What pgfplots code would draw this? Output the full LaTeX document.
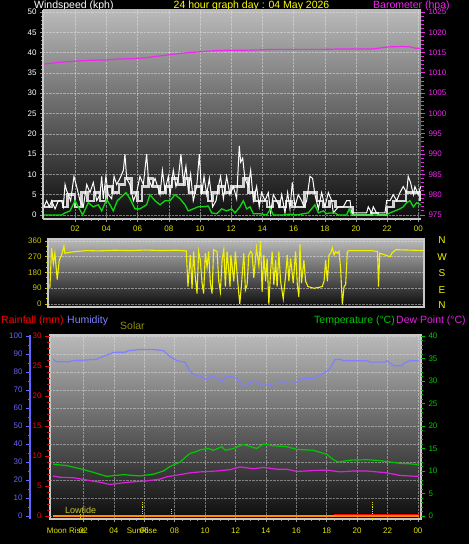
\documentclass[border=0pt]{standalone}
\usepackage{pgfplots}
\usepackage{pgfplotstable}
\pgfplotsset{compat=1.18}
\usepackage{fontspec}
\setmainfont{Liberation Sans}
\definecolor{bgtop}{HTML}{BABABA}
\definecolor{bgbot}{HTML}{0C0C0C}
\definecolor{bord}{HTML}{C8C8C8}
\definecolor{tyel}{HTML}{E2E200}
\definecolor{ttl}{HTML}{FFFF00}
\definecolor{bmag}{HTML}{F028F0}
\definecolor{avgg}{HTML}{10D810}
\definecolor{diry}{HTML}{F2F200}
\definecolor{dirlab}{HTML}{C8C800}
\definecolor{hum}{HTML}{8080FF}
\definecolor{humax}{HTML}{6464FF}
\definecolor{tgreen}{HTML}{00C800}
\definecolor{dewm}{HTML}{E020E0}
\definecolor{rainr}{HTML}{FF0000}
\definecolor{rorange}{HTML}{FF8C00}
\definecolor{solar}{HTML}{8C8C10}
\definecolor{tide}{HTML}{C8C830}
\definecolor{spd}{HTML}{D4D4D4}
\newcommand{\tf}{\fontsize{8}{9}\selectfont}
\newcommand{\hf}{\fontsize{10.5}{12}\selectfont}
\pgfplotsset{
  panel/.style={anchor=south west, scale only axis,
    /pgf/number format/assume math mode=true,
    /pgf/number format/1000 sep={},
    tick align=outside, major tick length=3pt, minor tick length=2pt},
}
\pgfplotstableread{
h v
0.00 2
0.17 3.5
0.34 2
0.49 3.5
0.71 1.5
0.92 3.5
1.13 3.5
1.24 2
1.35 7.5
1.45 6
1.56 5
1.71 3.5
1.92 9.5
2.09 7
2.31 3.5
2.52 2
2.74 7.5
2.95 5.5
3.16 8
3.38 3.5
3.59 5
3.70 9.5
3.80 4
3.97 9.5
4.12 5
4.34 4
4.49 9.5
4.66 7.5
4.87 9
5.09 11
5.19 15
5.30 9
5.51 7.5
5.73 3.5
5.94 5.5
6.15 9.5
6.37 7.5
6.58 15
6.69 9
6.90 7
7.12 9
7.44 5
7.59 11
7.76 6
7.97 9.5
8.08 5
8.29 11
8.46 7
8.61 9
8.78 15
8.93 8
9.10 12
9.25 6
9.40 10
9.57 3.5
9.79 7
9.96 15
10.11 5
10.26 9.5
10.43 5
10.60 9
10.81 2
11.03 3.5
11.18 7
11.32 9.5
11.50 4
11.71 9.5
11.92 5
12.14 7
12.35 4
12.52 17
12.61 13
12.74 14
12.88 9
13.10 7
13.25 11
13.42 3.5
13.63 7
13.80 2
13.95 5.5
14.17 3.5
14.38 5.5
14.53 0.5
14.70 5
14.91 3.5
15.09 2
15.24 5
15.45 0.5
15.62 5.5
15.77 1.5
15.92 8
16.09 2
16.30 5
16.52 3.5
16.67 2
16.84 3.5
17.05 9.5
17.22 9
17.37 5
17.59 1.5
17.80 5.5
18.01 2
18.23 5.5
18.44 3.5
18.55 0.5
18.87 2
19.19 2
19.40 3.5
19.62 3.5
19.72 0.5
20.68 0.5
20.79 2
21.00 0.5
21.11 2
21.32 0.5
21.86 0.5
21.97 3.5
22.18 3.5
22.39 5
22.61 3.5
22.82 5.5
23.03 7
23.25 5.5
23.35 9.5
23.50 8
23.68 5
23.78 7
23.99 5
24.15 7
}\gust
\pgfplotstableread{
h v
0.0 2
0.5 3.5
1.2 2
1.5 5
2.0 2
2.4 5.5
2.8 3.5
3.2 5.5
3.6 3.5
4.0 7
4.4 5.5
4.8 7.5
5.2 9
5.6 5.5
6.0 3.5
6.3 7
6.7 9
7.0 7
7.4 5.5
7.8 7
8.2 9
8.6 7.5
9.0 9
9.3 5.5
9.7 7
10.1 5.5
10.5 3.5
10.8 5.5
11.2 7
11.6 5.5
12.0 7
12.4 7
12.8 9
13.1 5.5
13.5 3.5
13.9 3.5
14.3 2
14.7 3.5
15.1 2
15.5 3.5
15.9 2
16.3 2
16.7 5.5
17.1 5.5
17.5 3.5
17.9 2
18.3 3.5
18.7 2
19.1 2
19.5 2
19.8 0
20.8 0
21.0 0.5
21.4 0
22.0 2
22.4 3.5
22.8 3.5
23.2 5.5
23.6 5.5
24.1 3.5
}\speed
\pgfplotstableread{
h v
0.00 0
1.13 0
1.35 0.5
1.67 1
1.99 3.5
2.20 2
2.48 0
2.84 3
3.16 2
3.48 2.5
3.70 1
4.02 3.8
4.23 2.5
4.44 1
4.70 3.5
4.98 4.5
5.26 5.5
5.51 4
5.83 1.5
6.15 1.5
6.58 2.5
6.79 5
7.12 3.5
7.44 2.5
7.76 3.5
8.08 3.5
8.40 5
8.72 4
9.04 2.5
9.25 1
9.57 1.5
9.89 2
10.21 2
10.53 2.2
10.75 0.5
11.07 0.3
11.39 1.5
11.71 1
12.03 1.5
12.24 0.5
12.56 2
12.78 3.5
12.99 1.5
13.21 2
13.42 0.3
13.85 0.3
14.27 0
14.53 1.5
14.70 0
15.34 0
15.77 0.2
16.20 0
16.94 0.5
17.37 2.5
17.59 0.5
17.91 1
18.12 0.3
18.33 0.5
18.65 0.5
18.87 0
19.40 0
19.57 1.5
19.72 0
21.97 0
22.18 0.5
22.50 1
22.82 1.5
23.03 2
23.25 3
23.46 3.5
23.68 2
23.89 3
24.15 2.5
}\avg
\pgfplotstableread{
h v
0 1012.2
1 1012.6
2 1012.9
3 1013.1
4 1013.2
4.7 1013.4
5.5 1013.5
6.5 1013.7
7 1014.0
7.7 1014.3
8.5 1014.7
9.3 1015.0
10 1015.2
11 1015.5
12 1015.6
13 1015.6
14 1015.7
15 1015.8
16 1015.8
17 1015.8
18 1015.8
19 1015.9
20 1015.9
21 1015.9
21.5 1016.1
22 1016.4
23 1016.5
23.5 1016.4
23.8 1016.1
24.15 1016.0
}\baro
\pgfplotstableread{
h v
0.38 90
0.49 320
0.60 230
0.70 290
0.85 140
0.98 250
1.13 280
1.28 330
1.34 290
1.66 295
2.09 300
2.73 305
3.50 303
4.50 307
5.50 305
6.50 308
7.50 305
8.50 307
9.10 303
9.21 100
9.36 280
9.47 90
9.57 300
9.68 150
9.79 60
9.89 300
10.00 250
10.11 120
10.21 60
10.32 290
10.43 210
10.53 300
10.64 120
10.75 60
10.85 310
11.07 300
11.18 130
11.28 70
11.39 250
11.50 310
11.60 100
11.71 300
11.90 100
11.95 280
12.14 130
12.24 300
12.35 170
12.52 0
12.63 110
12.78 290
12.88 80
12.99 110
13.10 280
13.21 300
13.31 290
13.42 150
13.59 320
13.74 220
13.85 360
13.95 70
14.06 280
14.17 130
14.27 260
14.38 0
14.49 180
14.59 300
14.70 110
14.81 250
14.91 100
15.02 300
15.13 130
15.30 30
15.45 160
15.56 280
15.66 130
15.77 260
15.94 120
16.09 300
16.20 110
16.30 40
16.37 340
16.47 120
16.62 250
16.73 130
16.88 100
17.05 95
17.26 90
17.59 95
17.80 100
17.91 130
18.01 250
18.12 130
18.23 280
18.33 290
18.44 320
18.55 280
18.65 300
18.76 290
18.87 300
18.97 200
19.08 0
19.19 100
19.29 110
19.40 300
19.51 305
20.90 305
21.33 300
21.39 100
21.47 290
21.97 275
22.14 270
22.24 290
22.50 310
24.30 305
}\dir
\pgfplotstableread{
h v
0.00 87
0.24 85.7
1.12 85.7
1.23 86.3
1.78 86.5
2.87 87
3.09 88
3.53 89.4
3.97 90.9
4.74 91
4.96 91.9
5.72 92.5
6.60 92.5
7.26 91.9
7.70 88.5
8.14 86.3
8.68 85.5
8.90 82
9.12 79.3
9.45 78
9.78 77.4
10.11 75.6
10.44 78
10.77 76.5
11.10 75
11.43 77.4
11.75 77.4
12.08 76.5
12.30 74
12.63 72.2
12.96 74
13.29 75
13.62 73
13.84 72.5
14.50 73.5
15.15 74
15.81 73.5
16.14 75
16.47 76.5
17.13 76.5
17.57 78.5
17.89 79.6
18.22 82
18.55 87
18.88 87
19.10 86.3
20.64 86.3
20.86 85.5
21.84 85.5
21.95 86.3
22.39 83.5
22.94 83.5
23.05 84.8
23.49 86.3
24.05 86.3
}\hum
\pgfplotstableread{
h v
0.00 11.5
0.90 11.2
1.78 10.5
2.65 9.7
3.53 8.8
4.08 9.0
4.63 9.2
5.29 9.0
5.72 8.9
6.60 9.3
7.26 10.0
7.70 11.0
8.36 12.0
8.68 13.0
9.01 13.9
9.34 14.2
9.67 14.7
10.22 15.0
10.55 14.6
11.10 15.4
11.32 14.6
11.86 15.0
12.52 15.9
13.40 15.0
13.84 16.0
14.50 15.6
15.37 15.4
16.03 14.8
17.13 14.6
18.00 13.7
18.44 12.5
18.77 12.0
19.54 12.4
20.64 12.5
21.51 12.3
22.17 12.0
22.83 11.7
23.49 11.6
24.05 11.4
}\temp
\pgfplotstableread{
h v
0.00 8.9
0.46 8.6
1.34 8.5
2.21 8.0
3.09 7.5
3.75 7.0
4.41 7.3
5.29 7.6
6.16 7.8
7.04 8.2
7.48 8.7
8.36 9.2
9.01 9.6
9.67 9.8
10.77 10.0
11.64 10.3
12.30 10.9
13.18 10.5
13.84 10.8
14.72 10.4
15.37 10.4
16.03 9.9
17.13 10.1
18.00 10.2
18.88 9.8
19.75 10.0
20.64 10.0
21.95 9.6
22.83 9.0
24.05 8.8
}\dew
\begin{document}
\begin{tikzpicture}[x=1pt,y=1pt]
\fill[black] (0pt,0pt) rectangle (469pt,544pt);
\useasboundingbox (0pt,0pt) rectangle (469pt,544pt);
% titles
\node[anchor=west, white, font=\hf, inner sep=0] at (34pt,538pt) {Windspeed (kph)};
\node[ttl, font=\hf, inner sep=0] at (251.5pt,538pt) {24 hour graph day : 04 May 2026};
% ---------- top panel ----------
\begin{axis}[panel, at={(43pt,325pt)}, width=378pt, height=209pt,
  xmin=-0.064, xmax=24.17, ymin=-1, ymax=50.5,
  axis background/.style={shade, top color=bgtop, bottom color=bgbot},
  axis x line*=bottom, axis y line*=left,
  axis line style={-, bord, line width=1.5pt},
  ytick={0,5,...,50}, minor y tick num=4,
  xtick={2,4,...,24}, xticklabels={02,04,06,08,10,12,14,16,18,20,22,00},
  minor x tick num=3,
  tick style={gray!80, line width=0.5pt},
  yticklabel style={white, font=\tf},
  xticklabel style={tyel, font=\tf},
  grid=major, major grid style={densely dotted, white!80!gray, opacity=0.5, line width=0.5pt},
]
\addplot[spd, line width=2.4pt, const plot] table {\speed};
\addplot[white, line width=1pt] table {\gust};
\addplot[avgg, line width=1.3pt] table {\avg};
\end{axis}
\begin{axis}[panel, at={(43pt,325pt)}, width=378pt, height=209pt,
  xmin=-0.064, xmax=24.17, ymin=974, ymax=1025.5,
  axis y line*=right, hide x axis,
  y axis line style={draw=none},
  ytick={975,980,...,1025}, minor y tick num=4,
  major tick length=4pt, minor tick length=3pt,
  tick style={bmag, line width=0.8pt},
  yticklabel style={bmag, font=\tf},
]
\addplot[bmag, line width=1.2pt] table {\baro};
\end{axis}
\node[anchor=west, bmag, font=\hf, inner sep=0] at (373pt,538.5pt) {Barometer (hpa)};
% ---------- wind direction ----------
\begin{axis}[panel, at={(48pt,237pt)}, width=376pt, height=68pt,
  xmin=0.26, xmax=24.3, ymin=-17, ymax=371,
  axis background/.style={shade, top color=bgtop, bottom color=bgbot},
  axis line style={bord, line width=1.5pt},
  xtick=\empty, ytick={0,90,180,270,360}, minor y tick num=2, ytick pos=left,
  tick style={dirlab, line width=0.6pt},
  yticklabel style={dirlab, font=\tf},
  ymajorgrids, major grid style={densely dotted, white!80!gray, opacity=0.5},
]
\addplot[diry, line width=1.1pt] table {\dir};
\end{axis}
\foreach \l/\yy in {N/304, W/287, S/271, E/254, N/239}
  \node[diry, font=\fontsize{10}{12}\selectfont, inner sep=0] at (442pt,\yy pt) {\l};
% ---------- bottom headers ----------
\node[anchor=west, rainr, font=\hf, inner sep=0] at (1pt,223pt) {Rainfall (mm)};
\node[anchor=west, hum, font=\hf, inner sep=0] at (67pt,223pt) {Humidity};
\node[anchor=west, solar, font=\hf, inner sep=0] at (120pt,218pt) {Solar};
\node[anchor=east, tgreen, font=\hf, inner sep=0] at (395pt,223pt) {Temperature (°C)};
\node[anchor=west, dewm, font=\hf, inner sep=0] at (396pt,223pt) {Dew Point (°C)};
% ---------- bottom panel ----------
\begin{axis}[panel, at={(50pt,25pt)}, width=371pt, height=184pt,
  xmin=-0.2, xmax=24.2, ymin=-1.67, ymax=100.56,
  axis background/.style={shade, top color=bgtop, bottom color=bgbot},
  axis line style={bord, line width=1.5pt},
  ytick={0,10,...,100}, yticklabels={}, ytick style={draw=none},
  xtick={2,4,...,24}, xticklabels={02,04,06,08,10,12,14,16,18,20,22,00},
  minor x tick num=3, xtick pos=bottom,
  tick style={gray!80, line width=0.5pt},
  xticklabel style={tyel, font=\tf, yshift=-2pt},
  grid=major, major grid style={densely dotted, white!80!gray, opacity=0.45, line width=0.5pt},
]
\addplot[hum, line width=1.2pt] table {\hum};
\addplot[tyel, densely dotted, line width=0.8pt] coordinates {(5.86,-1.67) (5.86,8.3)};
\addplot[tyel, densely dotted, line width=0.8pt] coordinates {(7.76,-1.67) (7.76,3.9)};
\addplot[tyel, densely dotted, line width=0.8pt] coordinates {(20.99,-1.67) (20.99,8.3)};
\addplot[tide, line width=1pt] coordinates {(1.78,-1.67) (1.78,1.2)};
\end{axis}
\begin{axis}[panel, at={(50pt,25pt)}, width=371pt, height=184pt,
  xmin=-0.2, xmax=24.2, ymin=-0.667, ymax=40.22,
  axis y line*=right, hide x axis, y axis line style={draw=none},
  ytick={0,5,...,40}, minor y tick num=4,
  major tick length=4pt, minor tick length=2pt,
  tick style={tgreen, line width=0.8pt},
  yticklabel style={tgreen, font=\tf},
]
\addplot[tgreen, line width=1.2pt] table {\temp};
\addplot[dewm, line width=1.2pt] table {\dew};
\end{axis}
\begin{axis}[panel, at={(50pt,25pt)}, width=371pt, height=184pt,
  xmin=-0.2, xmax=24.2, ymin=-0.5, ymax=30.17,
  axis y line*=left, hide x axis, y axis line style={draw=none},
  ytick={0,5,...,30}, minor y tick num=4,
  major tick length=5pt, minor tick length=3pt,
  tick style={rainr, line width=0.8pt},
  yticklabel style={rainr, font=\tf},
]
\addplot[rorange, line width=1.5pt] coordinates {(0,0) (24.05,0)};
\addplot[rainr, line width=1.2pt] coordinates {(18.5,0.2) (24.05,0.2)};
\end{axis}
\begin{axis}[panel, at={(30pt,25pt)}, width=15pt, height=184pt,
  xmin=0, xmax=1, ymin=-1.67, ymax=100.56,
  axis y line*=left, hide x axis, y axis line style={-, humax, line width=2pt},
  ytick={0,10,...,100}, minor y tick num=1,
  major tick length=4pt, minor tick length=2pt,
  tick style={humax, line width=0.8pt},
  yticklabel style={humax, font=\tf},
]
\end{axis}
% markers text
\node[anchor=west, tide, font=\fontsize{9}{10}\selectfont, inner sep=0] at (65pt,34pt) {Lowtide};
\node[tyel, font=\tf, inner sep=0] at (66pt,13pt) {Moon Rise};
\node[tyel, font=\tf, inner sep=0] at (142pt,13pt) {SunRise};
\end{tikzpicture}
\end{document}
